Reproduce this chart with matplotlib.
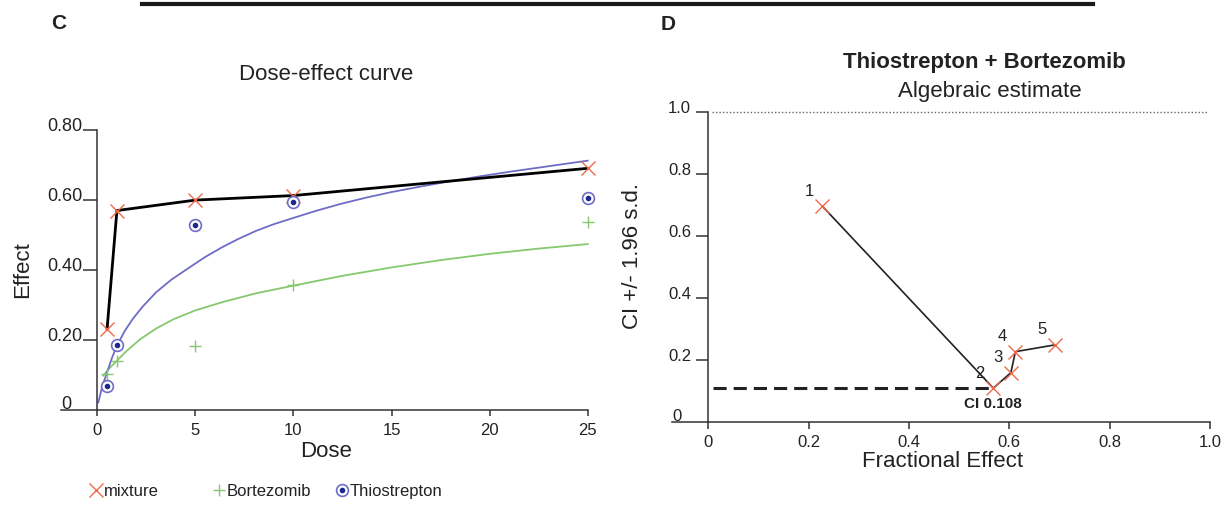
import matplotlib
matplotlib.use("Agg")
import matplotlib.pyplot as plt
from matplotlib.lines import Line2D
from matplotlib.legend_handler import HandlerTuple

plt.rcParams["font.family"] = ["Liberation Sans", "DejaVu Sans"]

# panel C: measured dose-effect points
dose = [0.5, 1, 5, 10, 25]
mixture = [0.231, 0.570, 0.600, 0.613, 0.691]
bortezomib = [0.102, 0.140, 0.181, 0.358, 0.536]
thiostrepton = [0.066, 0.186, 0.529, 0.594, 0.605]

# fitted curves
thio_fit_dose = [0.05, 0.25, 0.5, 0.75, 1, 1.4, 1.8, 2.3, 3, 3.8, 4.7, 5.5, 6.4,
                 7.2, 8.1, 9, 10, 11.2, 12.4, 13.7, 15, 16.5, 18, 19.5, 21, 23, 25]
thio_fit_eff = [0.02, 0.065, 0.107, 0.148, 0.183, 0.225, 0.259, 0.294, 0.336, 0.373,
                0.407, 0.437, 0.466, 0.489, 0.512, 0.531, 0.549, 0.570, 0.589, 0.607,
                0.623, 0.639, 0.654, 0.668, 0.681, 0.697, 0.713]
bort_fit_dose = [0.3, 0.6, 1, 1.5, 2.2, 3, 3.9, 5, 6.4, 8.1, 10, 12.5, 15, 17.5,
                 20, 22.5, 25]
bort_fit_eff = [0.097, 0.117, 0.140, 0.168, 0.202, 0.232, 0.259, 0.284, 0.308, 0.333,
                0.355, 0.383, 0.407, 0.428, 0.446, 0.461, 0.474]

dose_ticks = [0, 5, 10, 15, 20, 25]
effect_ticks = [0.2, 0.4, 0.6, 0.8]
effect_labels = ["0.20", "0.40", "0.60", "0.80"]

# panel D: combination index vs fractional effect
fa = [0.227, 0.568, 0.603, 0.612, 0.691]
ci = [0.697, 0.108, 0.158, 0.226, 0.248]
point_labels = ["1", "2", "3", "4", "5"]
fa_ticks = [0, 0.2, 0.4, 0.6, 0.8, 1.0]
fa_labels = ["0", "0.2", "0.4", "0.6", "0.8", "1.0"]
ci_ticks = [0.2, 0.4, 0.6, 0.8, 1.0]
ci_labels = ["0.2", "0.4", "0.6", "0.8", "1.0"]

W, H = 1228, 506
RED = "#ec6a4a"
GREEN = "#86c86e"
BLUE = "#6f6cc6"
NAVY = "#1c2a8a"
AX = "#333333"
TXT = "#222222"


def fx(px):
    return px / W


def fy(py):
    return 1 - py / H


fig = plt.figure(figsize=(12.28, 5.06), dpi=100)

# ---------------- panel C ----------------
ax = fig.add_axes([fx(61), fy(410.5), fx(526.7), 0.5656])
ax.set_xlim(-1.85, 25)
ax.set_ylim(0, 0.82)
for s in ["top", "right"]:
    ax.spines[s].set_visible(False)
ax.spines["left"].set_position(("data", 0))
ax.spines["left"].set_bounds(0, 0.80)
for s in ["left", "bottom"]:
    ax.spines[s].set_color(AX)
    ax.spines[s].set_linewidth(1.1)

ax.plot(bort_fit_dose, bort_fit_eff, color=GREEN, lw=1.3, clip_on=False)
ax.plot(thio_fit_dose, thio_fit_eff, color=BLUE, lw=1.3, clip_on=False)
ax.plot(dose, mixture, color="black", lw=2, clip_on=False)

h_mix, = ax.plot(dose, mixture, "x", ms=10, mew=1.0, color=RED, ls="none", clip_on=False)
h_bor, = ax.plot(dose, bortezomib, "+", ms=9, mew=1.0, color=GREEN, ls="none", clip_on=False)
h_thc, = ax.plot(dose, thiostrepton, "o", ms=8.5, mew=1.2, mec=BLUE, mfc="white",
                 ls="none", clip_on=False)
h_thd, = ax.plot(dose, thiostrepton, "o", ms=3, color=NAVY, ls="none", clip_on=False)

ax.set_xticks(dose_ticks)
ax.set_xticklabels([str(t) for t in dose_ticks])
ax.set_yticks(effect_ticks)
ax.set_yticklabels(effect_labels)
ax.tick_params(axis="x", direction="out", length=4, width=1.1, color=AX, pad=5,
               labelsize=12, labelcolor=TXT)
ax.tick_params(axis="y", direction="out", length=10, width=1.1, color=AX, pad=0.5,
               labelsize=13, labelcolor=TXT)
for lbl in ax.get_yticklabels():
    lbl.set_va("baseline")
ax.text(-1.34, 0.004, "0", ha="right", va="baseline", fontsize=13, color=TXT)

fig.text(fx(326), fy(74), "Dose-effect curve", ha="center", va="center", fontsize=16, color=TXT)
fig.text(fx(326), fy(457), "Dose", ha="center", va="baseline", fontsize=16, color=TXT)
fig.text(fx(23), fy(270), "Effect", ha="center", va="center", rotation=90, fontsize=16, color=TXT)
fig.text(fx(59), fy(24), "C", ha="center", va="center", fontsize=15, fontweight="bold", color=TXT)

legend_items = [(h_mix, "mixture", 88), (h_bor, "Bortezomib", 211), ((h_thc, h_thd), "Thiostrepton", 334)]
for handle, name, xpx in legend_items:
    fig.legend([handle], [name], loc="center left", bbox_to_anchor=(fx(xpx), fy(492)),
               frameon=False, fontsize=12, handlelength=0.9, handletextpad=0.05,
               borderpad=0, borderaxespad=0, labelcolor=TXT,
               handler_map={tuple: HandlerTuple(ndivide=1)})

# ---------------- panel D ----------------
bx = fig.add_axes([fx(672), fy(422.5), fx(538), 0.6229])
bx.set_xlim(-0.0726, 1.0)
bx.set_ylim(0, 1.02)
for s in ["top", "right"]:
    bx.spines[s].set_visible(False)
bx.spines["left"].set_position(("data", 0))
bx.spines["left"].set_bounds(0, 1.0)
for s in ["left", "bottom"]:
    bx.spines[s].set_color(AX)
    bx.spines[s].set_linewidth(1.1)

bx.plot([0.007, 0.994], [1.0, 1.0], color="#666666", lw=1.0, ls=(0, (1, 1.5)), clip_on=False)
bx.plot([0.01, fa[1]], [ci[1], ci[1]], color="#222222", lw=2.2, dashes=(4.3, 2.3))
bx.plot(fa, ci, color="#222222", lw=1.2)
bx.plot(fa, ci, "x", ms=10, mew=1.0, color=RED, ls="none")
for x, y, t in zip(fa, ci, point_labels):
    bx.annotate(t, (x, y), xytext=(-9.5, 11.5), textcoords="offset points",
                ha="center", va="center", fontsize=12, color=TXT)
bx.annotate(f"CI {ci[1]:.3f}", (fa[1], ci[1]), xytext=(0, -11), textcoords="offset points",
            ha="center", va="center", fontsize=11, fontweight="bold", color=TXT)

bx.set_xticks(fa_ticks)
bx.set_xticklabels(fa_labels)
bx.set_yticks(ci_ticks)
bx.set_yticklabels(ci_labels)
bx.tick_params(axis="x", direction="out", length=5, width=1.1, color=AX, pad=4,
               labelsize=12, labelcolor=TXT)
bx.tick_params(axis="y", direction="out", length=9, width=1.1, color=AX, pad=3.5,
               labelsize=12, labelcolor=TXT)
for lbl in bx.get_yticklabels():
    lbl.set_va("baseline")
bx.text(-0.053, 0.004, "0", ha="right", va="baseline", fontsize=12, color=TXT)

fig.text(fx(984), fy(63), "Thiostrepton + Bortezomib", ha="center", va="center",
         fontsize=16, fontweight="bold", color=TXT)
fig.text(fx(990), fy(92), "Algebraic estimate", ha="center", va="center", fontsize=16, color=TXT)
fig.text(fx(943), fy(467), "Fractional Effect", ha="center", va="baseline", fontsize=16, color=TXT)
fig.text(fx(633), fy(256), "CI +/- 1.96 s.d.", ha="center", va="center", rotation=90,
         fontsize=16, color=TXT)
fig.text(fx(668), fy(25), "D", ha="center", va="center", fontsize=15, fontweight="bold", color=TXT)

# rule across the top of the figure
fig.add_artist(Line2D([fx(142), fx(1093)], [fy(4.5), fy(4.5)], color="#1a1a1a", lw=3))

fig.savefig("out.png", dpi=100)
